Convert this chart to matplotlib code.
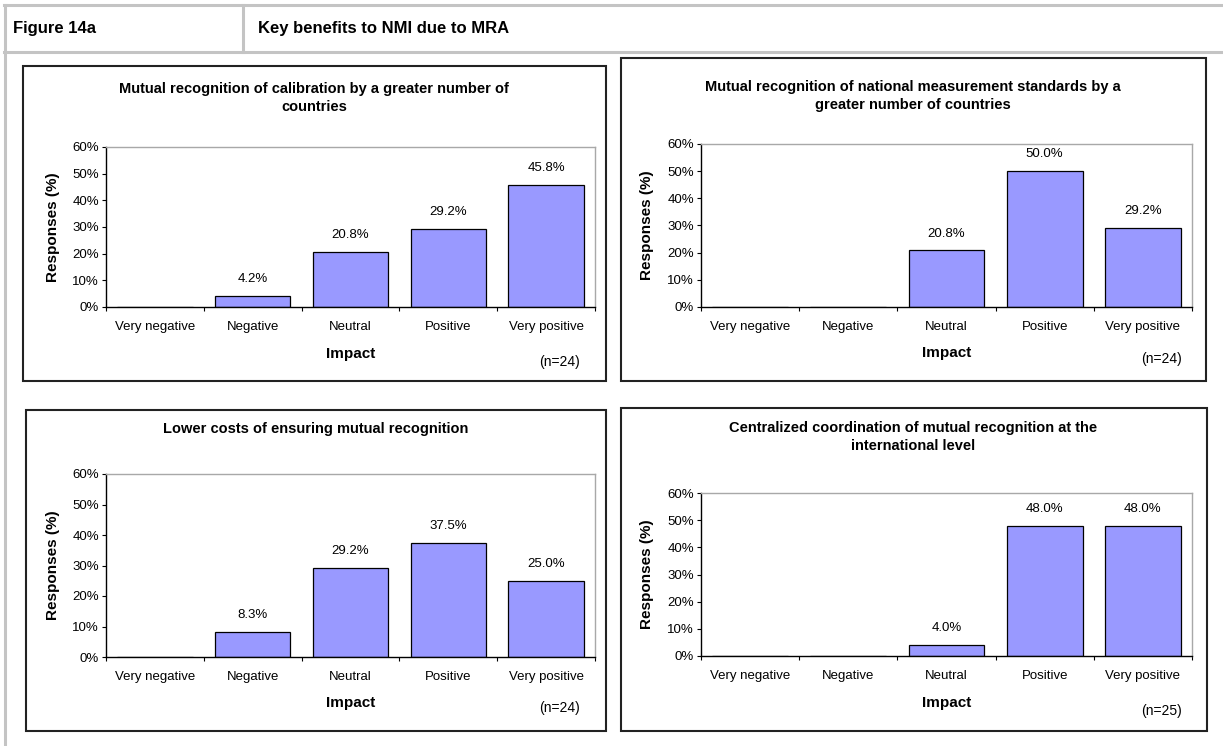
import matplotlib
matplotlib.use("Agg")
import matplotlib.pyplot as plt
from matplotlib.patches import Rectangle
from matplotlib.lines import Line2D
from matplotlib.ticker import FixedLocator, NullFormatter

plt.rcParams['font.family'] = ['Liberation Sans', 'DejaVu Sans']

# ---- data ----
categories = ["Very negative", "Negative", "Neutral", "Positive", "Very positive"]

titles = [
    "Mutual recognition of calibration by a greater number of\ncountries",
    "Mutual recognition of national measurement standards by a\ngreater number of countries",
    "Lower costs of ensuring mutual recognition",
    "Centralized coordination of mutual recognition at the\ninternational level",
]
calibration = [0.0, 4.2, 20.8, 29.2, 45.8]
national_standards = [0.0, 0.0, 20.8, 50.0, 29.2]
lower_costs = [0.0, 8.3, 29.2, 37.5, 25.0]
centralized = [0.0, 0.0, 4.0, 48.0, 48.0]
sample_sizes = [24, 24, 24, 25]

series = [calibration, national_standards, lower_costs, centralized]

y_ticks = [0, 10, 20, 30, 40, 50, 60]

# ---- figure geometry (pixels) ----
W, H = 1223, 746
fig = plt.figure(figsize=(W / 100, H / 100), dpi=100)
fig.patch.set_facecolor("white")


def fx(x):
    return x / W


def fy(y):
    return 1 - y / H


def rect(x0, y0, x1, y1):
    return [fx(x0), fy(y1), (x1 - x0) / W, (y1 - y0) / H]


# header frame
grey = "#c4c4c4"
for (xa, ya, xb, yb) in [(4, 5, W, 5), (4, 52, W, 52), (243, 5, 243, 52), (5, 5, 5, H)]:
    fig.add_artist(Line2D([fx(xa), fx(xb)], [fy(ya), fy(yb)], color=grey, lw=2.2))

fig.text(fx(13), fy(29), "Figure 14a", fontsize=12, fontweight="bold", va="center", ha="left")
fig.text(fx(258), fy(29), "Key benefits to NMI due to MRA", fontsize=12, fontweight="bold",
         va="center", ha="left")

# panel layouts: frame box, plot area, title centre, ylabel x, xlabel y, n-label position
panels = [
    dict(box=(23, 66, 606, 381), plot=(106, 147, 595, 307), title=(314, 98),
         ylab=53, xlab=354, nlab=(560, 362)),
    dict(box=(621, 58, 1206, 381), plot=(701, 144, 1192, 307), title=(913, 96),
         ylab=647, xlab=353, nlab=(1162, 359)),
    dict(box=(26, 410, 606, 731), plot=(106, 474, 595, 657), title=(316, 429),
         ylab=53, xlab=703, nlab=(560, 708)),
    dict(box=(621, 408, 1207, 731), plot=(701, 493, 1192, 656), title=(913, 437),
         ylab=647, xlab=703, nlab=(1162, 711)),
]

x = list(range(len(categories)))

for p, vals, title, n in zip(panels, series, titles, sample_sizes):
    bx0, by0, bx1, by1 = p["box"]
    fig.add_artist(Rectangle((fx(bx0), fy(by1)), (bx1 - bx0) / W, (by1 - by0) / H,
                             transform=fig.transFigure, fill=False,
                             edgecolor="#222222", lw=1.5))

    ax = fig.add_axes(rect(*p["plot"]))
    ax.bar(x, vals, width=0.77, color="#9999ff", edgecolor="black", linewidth=0.9, zorder=2)
    ax.set_xlim(-0.5, len(categories) - 0.5)
    ax.set_ylim(0, 60)

    for xi, v in zip(x, vals):
        if v > 0:
            ax.annotate(f"{v:.1f}%", (xi, v), xytext=(0, 12), textcoords="offset points",
                        ha="center", va="center", fontsize=9.5)

    ax.yaxis.set_major_locator(FixedLocator(y_ticks))
    ax.set_yticklabels([f"{t}%" for t in y_ticks])
    ax.tick_params(axis="y", direction="out", length=3, width=0.8, pad=2, labelsize=9.5)

    ax.set_xticks(x)
    ax.set_xticklabels(categories)
    ax.tick_params(axis="x", which="major", length=0, pad=10, labelsize=9.5)
    ax.xaxis.set_minor_locator(FixedLocator([i - 0.5 for i in range(len(categories) + 1)]))
    ax.xaxis.set_minor_formatter(NullFormatter())
    ax.tick_params(axis="x", which="minor", direction="out", length=3, width=0.8)

    for side in ("left", "bottom"):
        ax.spines[side].set_color("black")
        ax.spines[side].set_linewidth(1.0)
    for side in ("top", "right"):
        ax.spines[side].set_color("#a8a8a8")
        ax.spines[side].set_linewidth(1.0)

    px0, py0, px1, py1 = p["plot"]
    tx, ty = p["title"]
    fig.text(fx(tx), fy(ty), title, ha="center", va="center", fontsize=10.5,
             fontweight="bold", linespacing=1.45)
    fig.text(fx(p["ylab"]), fy((py0 + py1) / 2), "Responses (%)", rotation=90,
             ha="center", va="center", fontsize=11, fontweight="bold")
    fig.text(fx((px0 + px1) / 2), fy(p["xlab"]), "Impact", ha="center", va="center",
             fontsize=11, fontweight="bold")
    nx, ny = p["nlab"]
    fig.text(fx(nx), fy(ny), f"(n={n})", ha="center", va="center", fontsize=10)

fig.savefig("out.png", dpi=100, facecolor="white")
